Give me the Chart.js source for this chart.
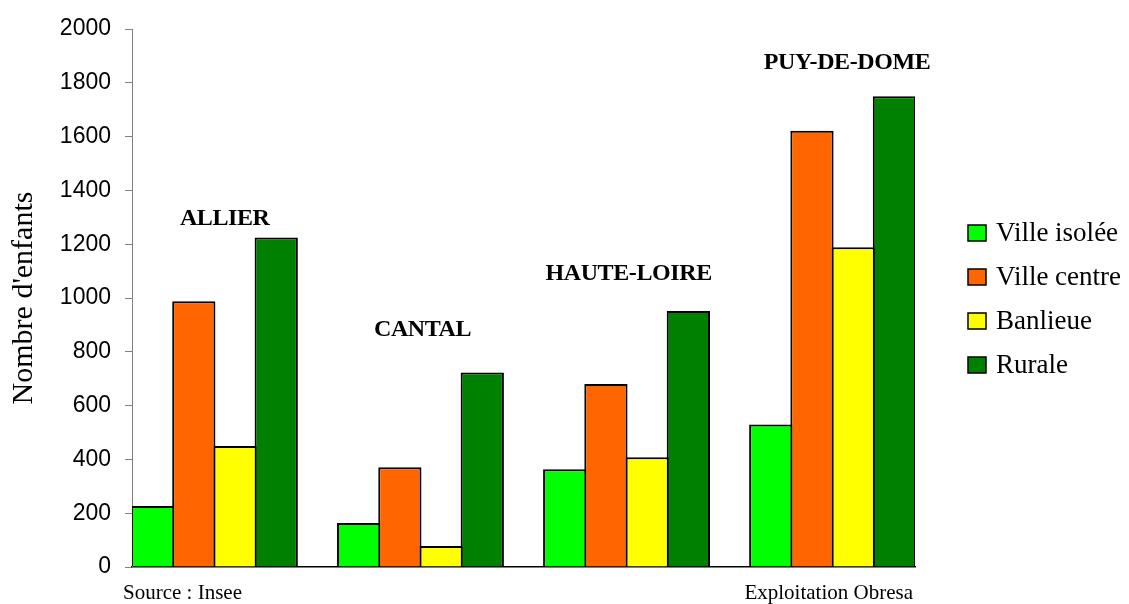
<!DOCTYPE html>
<html>
<head>
<meta charset="utf-8">
<title>Nombre d'enfants par département</title>
<script src="https://cdn.jsdelivr.net/npm/chart.js"></script>
<style>
  html, body { margin: 0; padding: 0; background: #fff; }
  #wrap { width: 1129px; height: 604px; position: relative; }
</style>
</head>
<body>
<div id="wrap"><canvas id="chart"></canvas></div>
<script>
// one bar group per département
const departements = ['ALLIER', 'CANTAL', 'HAUTE-LOIRE', 'PUY-DE-DOME'];
// one series per type of commune
const typesCommune = ['Ville isolée', 'Ville centre', 'Banlieue', 'Rurale'];
const villeIsolee = [227, 164, 363, 530];
const villeCentre = [988, 371, 680, 1622];
const banlieue = [450, 78, 408, 1189];
const rurale = [1225, 723, 952, 1750];
const yMax = 2000;
const yStep = 200;

const couleurs = ['#00ff00', '#ff6600', '#ffff00', '#008000'];
const series = [villeIsolee, villeCentre, banlieue, rurale];

// where each département name sits (x in group units, y in data units)
const nomPos = [[0.05, 1295], [1.01, 880], [2.01, 1090], [3.07, 1876]];

const serif = "'Liberation Serif', 'Times New Roman', serif";
const sans = "'Liberation Sans', Arial, sans-serif";

// draws the département names, the legend and the source lines
const decor = {
  id: 'decor',
  afterDraw(chart) {
    const ctx = chart.ctx;
    const xs = chart.scales.x, ys = chart.scales.y;
    ctx.save();
    ctx.fillStyle = '#000';
    ctx.textBaseline = 'middle';
    ctx.textAlign = 'center';
    ctx.font = 'bold 24px ' + serif;
    ctx.letterSpacing = '-0.4px';
    departements.forEach((nom, i) => {
      ctx.fillText(nom, xs.getPixelForValue(nomPos[i][0]), ys.getPixelForValue(nomPos[i][1]));
    });
    ctx.letterSpacing = '0px';

    // legend
    ctx.textAlign = 'left';
    ctx.font = '27px ' + serif;
    chart.data.datasets.forEach((ds, i) => {
      const cy = 233 + i * 44;
      ctx.fillStyle = ds.backgroundColor;
      ctx.fillRect(968, cy - 8, 18, 16);
      ctx.lineWidth = 1.5;
      ctx.strokeStyle = '#000';
      ctx.strokeRect(968, cy - 8, 18, 16);
      ctx.fillStyle = '#000';
      ctx.fillText(ds.label, 996, cy + 1);
    });

    // sources
    ctx.font = '21px ' + serif;
    ctx.fillText('Source : Insee', 123, 593);
    ctx.textAlign = 'right';
    ctx.fillText('Exploitation Obresa', 913, 593);
    ctx.restore();
  }
};

new Chart(document.getElementById('chart'), {
  type: 'bar',
  data: {
    datasets: typesCommune.map((t, k) => ({
      label: t,
      data: series[k].map((v, i) => ({ x: i, y: v })),
      backgroundColor: couleurs[k],
      borderColor: '#000',
      borderWidth: 2,
      categoryPercentage: 0.8,
      // bars overlap by ~1px so neighbours share one 2px edge
      barPercentage: 1.05
    }))
  },
  options: {
    responsive: true,
    maintainAspectRatio: false,
    animation: false,
    layout: { padding: { top: 29, bottom: 37, left: 0, right: 214 } },
    plugins: {
      legend: { display: false },
      tooltip: { enabled: false }
    },
    scales: {
      x: {
        type: 'linear',
        min: -0.4,
        max: 3.4,
        offset: false,
        ticks: { display: false },
        grid: { display: false, offset: false },
        border: { color: '#000', width: 1.5 },
        afterBuildTicks: s => { s.ticks = departements.map((d, i) => ({ value: i })); },
        afterFit: s => { s.height = 0; }
      },
      y: {
        min: 0,
        max: yMax,
        ticks: {
          stepSize: yStep,
          color: '#000',
          padding: 14,
          font: { family: sans, size: 23 },
          callback: v => String(v)
        },
        grid: { drawOnChartArea: false, drawTicks: true, tickLength: 7, color: '#808080' },
        border: { color: '#808080', width: 1 },
        title: {
          display: true,
          text: "Nombre d'enfants",
          color: '#000',
          font: { family: serif, size: 30 },
          padding: { top: 6, bottom: 0 }
        },
        afterFit: s => { s.width = 132; }
      }
    }
  },
  plugins: [decor]
});
</script>
</body>
</html>
